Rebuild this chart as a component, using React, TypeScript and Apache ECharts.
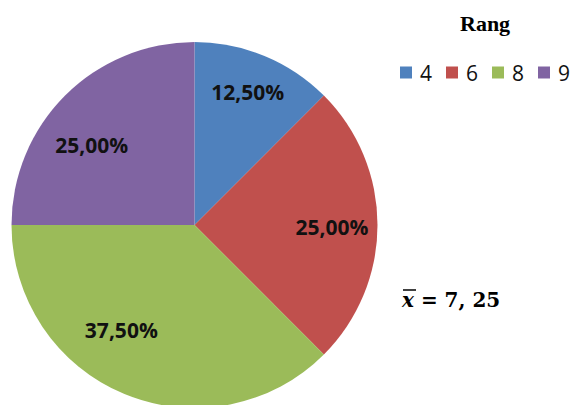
import React, { useEffect, useRef } from "react";
import * as echarts from "echarts";

const categories = ["4", "6", "8", "9"];
const values = [12.5, 25, 37.5, 25];
const colors = ["#4F81BD", "#C0504D", "#9BBB59", "#8064A2"];
const labelShift = [
  [17, -46],
  [43, 2],
  [-37, 18],
  [-36, -13],
];
const legendTitle = "Rang";
const meanValue = "7, 25";

export default function App() {
  const ref = useRef<HTMLDivElement>(null);
  useEffect(() => {
    if (!ref.current) return;
    const chart = echarts.init(ref.current, null, { renderer: "svg" });
    chart.setOption({
      animation: false,
      backgroundColor: "#ffffff",
      title: {
        text: legendTitle,
        left: 460,
        top: 12,
        padding: 0,
        textStyle: {
          fontFamily: "Liberation Serif",
          fontWeight: "bold",
          fontSize: 22,
          color: "#000",
        },
      },
      legend: {
        left: 400,
        top: 62,
        padding: 0,
        icon: "rect",
        itemWidth: 12,
        itemHeight: 12,
        itemGap: 14,
        textStyle: {
          fontFamily: "Open Sans",
          fontSize: 21,
          color: "#111",
          padding: [0, 0, 0, 3],
        },
        data: categories,
      },
      graphic: [
        {
          type: "text",
          left: 402,
          top: 290,
          style: {
            text: "{x|x} = " + meanValue,
            fontFamily: "DejaVu Serif",
            fontWeight: "bold",
            fontSize: 20,
            fill: "#000",
            rich: {
              x: {
                fontFamily: "DejaVu Serif",
                fontWeight: "bold",
                fontStyle: "italic",
                fontSize: 20,
              },
            },
          },
        },
        {
          type: "line",
          shape: { x1: 403, y1: 290, x2: 416, y2: 290 },
          style: { stroke: "#000", lineWidth: 1.5 },
        },
      ],
      series: [
        {
          type: "pie",
          center: [194.5, 225],
          radius: [0, 183],
          startAngle: 90,
          clockwise: true,
          avoidLabelOverlap: false,
          itemStyle: { borderWidth: 0 },
          label: {
            show: true,
            position: "inside",
            formatter: (p: any) => p.value.toFixed(2).replace(".", ",") + "%",
            fontFamily: "Open Sans",
            fontWeight: "bold",
            fontSize: 21,
            color: "#111",
          },
          labelLayout: (p: any) => ({
            dx: labelShift[p.dataIndex][0],
            dy: labelShift[p.dataIndex][1],
          }),
          labelLine: { show: false },
          emphasis: { disabled: true },
          data: categories.map((c, i) => ({
            name: c,
            value: values[i],
            itemStyle: { color: colors[i] },
          })),
        },
      ],
    });
    return () => chart.dispose();
  }, []);
  return (
    <div
      ref={ref}
      style={{ position: "fixed", left: 0, top: 0, width: 572, height: 405 }}
    />
  );
}
